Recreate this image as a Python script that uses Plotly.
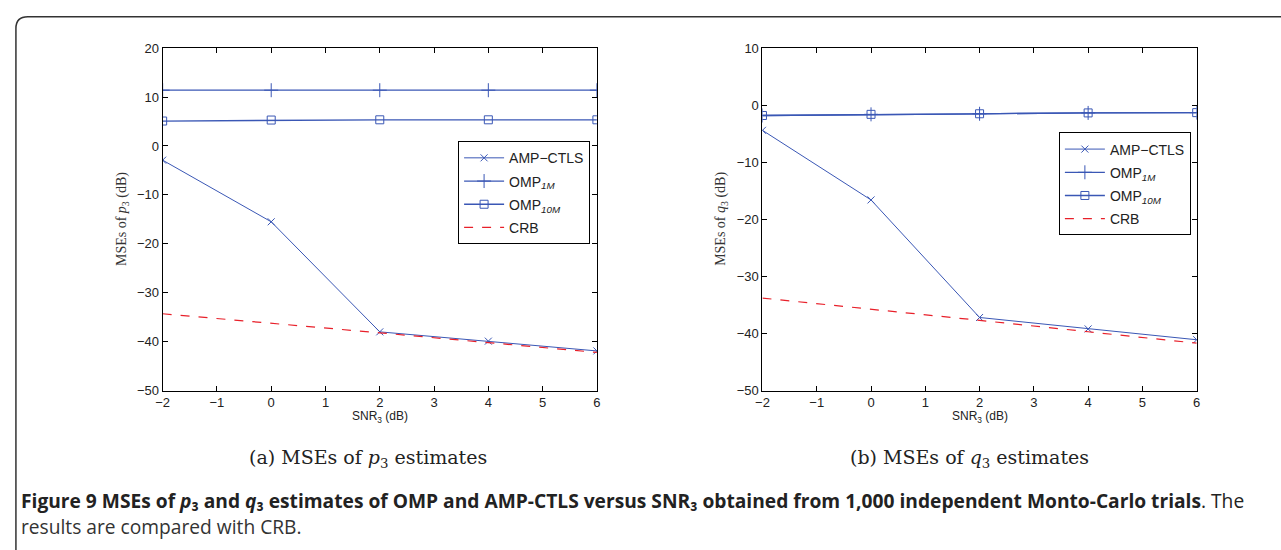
import plotly.graph_objects as go

snr = [-2, 0, 2, 4, 6]

# (a) MSEs of p3 (dB)
p3_amp = [-2.9, -15.5, -38.0, -39.9, -41.9]
p3_omp1m = [11.4, 11.4, 11.4, 11.4, 11.4]
p3_omp10m = [5.1, 5.3, 5.35, 5.35, 5.35]
p3_crb = [-34.3, -36.2, -38.2, -40.2, -42.2]

# (b) MSEs of q3 (dB)
q3_amp = [-4.4, -16.6, -37.2, -39.2, -41.1]
q3_omp1m = [-1.8, -1.6, -1.5, -1.35, -1.3]
q3_omp10m = [-1.8, -1.6, -1.5, -1.35, -1.3]
q3_crb = [-33.8, -35.7, -37.7, -39.7, -41.7]

x_ticks = [-2, -1, 0, 1, 2, 3, 4, 5, 6]
p3_ticks = [20, 10, 0, -10, -20, -30, -40, -50]
q3_ticks = [10, 0, -10, -20, -30, -40, -50]

BLUE = "#3a57b5"
RED = "#e8202a"
W, H = 1281, 550

fig = go.Figure()

def add_set(xa, ya, leg, tag, amp, o1, o10, crb):
    fig.add_trace(go.Scatter(x=snr, y=amp, mode="lines+markers", name="AMP−CTLS",
                             line=dict(color=BLUE, width=1),
                             marker=dict(symbol="x-thin-open", size=7, line=dict(color=BLUE, width=1)),
                             xaxis=xa, yaxis=ya, legend=leg, legendgroup=tag + "a"))
    fig.add_trace(go.Scatter(x=snr, y=o1, mode="lines+markers", name="OMP<sub><i>1M</i></sub>",
                             line=dict(color=BLUE, width=1.3),
                             marker=dict(symbol="cross-thin-open", size=10, line=dict(color=BLUE, width=1)),
                             xaxis=xa, yaxis=ya, legend=leg, legendgroup=tag + "b"))
    fig.add_trace(go.Scatter(x=snr, y=o10, mode="lines+markers", name="OMP<sub><i>10M</i></sub>",
                             line=dict(color=BLUE, width=1.3),
                             marker=dict(symbol="square-open", size=8, color=BLUE, line=dict(color=BLUE, width=1)),
                             xaxis=xa, yaxis=ya, legend=leg, legendgroup=tag + "c"))
    fig.add_trace(go.Scatter(x=snr, y=crb, mode="lines", name="CRB",
                             line=dict(color=RED, width=1.2, dash="dash"),
                             xaxis=xa, yaxis=ya, legend=leg, legendgroup=tag + "d"))

add_set("x", "y", "legend", "p", p3_amp, p3_omp1m, p3_omp10m, p3_crb)
add_set("x2", "y2", "legend2", "q", q3_amp, q3_omp1m, q3_omp10m, q3_crb)

def px_x(v):
    return v / W

def px_y(v):
    return 1 - v / H

ytop, ybot = px_y(42.3), px_y(394.3)

axis_common = dict(showline=True, linecolor="black", linewidth=1, mirror="ticks",
                   ticks="inside", ticklen=5, tickcolor="black", tickwidth=1,
                   showgrid=False, zeroline=False,
                   tickfont=dict(family="Liberation Sans, Arial, sans-serif", size=13, color="#222"))

legend_common = dict(xanchor="left", yanchor="top",
                     bgcolor="white", bordercolor="black", borderwidth=1,
                     font=dict(family="Liberation Sans, Arial, sans-serif", size=14, color="#222"),
                     tracegroupgap=2, itemwidth=40)

fig.update_layout(
    width=W, height=H, margin=dict(l=0, r=0, t=0, b=0),
    paper_bgcolor="white", plot_bgcolor="white",
    showlegend=True,
    xaxis=dict(domain=[px_x(157), px_x(595)], range=[-2, 6], tickvals=x_ticks, anchor="y", **axis_common),
    yaxis=dict(domain=[ybot, ytop], range=[-50, 20], tickvals=p3_ticks, anchor="x", **axis_common),
    xaxis2=dict(domain=[px_x(762), px_x(1200)], range=[-2, 6], tickvals=x_ticks, anchor="y2", **axis_common),
    yaxis2=dict(domain=[ybot, ytop], range=[-50, 10], tickvals=q3_ticks, anchor="x2", **axis_common),
    legend=dict(x=px_x(455), y=px_y(138), **legend_common),
    legend2=dict(x=px_x(1061), y=px_y(129), **legend_common),
)

ann = []
serif = "Liberation Serif, DejaVu Serif, serif"
wide_serif = "DejaVu Serif, Liberation Serif, serif"
sans = "Liberation Sans, Arial, sans-serif"

def note(xp, yp, text, font, xanchor="center", yanchor="middle", angle=0, align="center"):
    ann.append(dict(x=px_x(xp), y=px_y(yp), xref="paper", yref="paper",
                    xanchor=xanchor, yanchor=yanchor, textangle=angle, align=align,
                    text=text, showarrow=False, font=font))

# axis titles
for xc in (376, 981):
    note(xc, 421, "SNR<sub>3</sub> (dB)", dict(family=sans, size=12, color="#222"))
note(116, 218, "MSEs of <i>p</i><sub>3</sub> (dB)", dict(family=serif, size=14, color="#333"), angle=-90)
note(720, 218, "MSEs of <i>q</i><sub>3</sub> (dB)", dict(family=serif, size=14, color="#333"), angle=-90)
# sub-captions
note(364, 464, "(a) MSEs of <i>p</i><sub>3</sub> estimates", dict(family=wide_serif, size=19, color="#222"))
note(971, 464, "(b) MSEs of <i>q</i><sub>3</sub> estimates", dict(family=wide_serif, size=19, color="#222"))
# figure caption
cap1 = ("<b>Figure 9 MSEs of <i>p</i>₃ and <i>q</i>₃ estimates of OMP and AMP-CTLS "
        "versus SNR₃ obtained from 1,000 independent Monto-Carlo trials</b>. The")
note(12, 507, cap1, dict(family="Open Sans, sans-serif", size=19.2, color="#222"), xanchor="left")
note(12, 534, "results are compared with CRB.", dict(family="Open Sans, sans-serif", size=19.2, color="#333"),
     xanchor="left")
fig.update_layout(annotations=ann)

# rounded frame around the figure
x0 = px_x(9)
ytopf = px_y(10)
rx, ry = 12 / W, 12 / H
path = (f"M {x0},-0.05 L {x0},{ytopf - ry} Q {x0},{ytopf} {x0 + rx},{ytopf} L 1.05,{ytopf}")
fig.add_shape(type="path", path=path, xref="paper", yref="paper",
              line=dict(color="#333", width=1.5))

fig.write_html("out.html", config={"displayModeBar": False},
               post_script="document.body.style.margin='0';document.body.style.overflow='hidden';")
